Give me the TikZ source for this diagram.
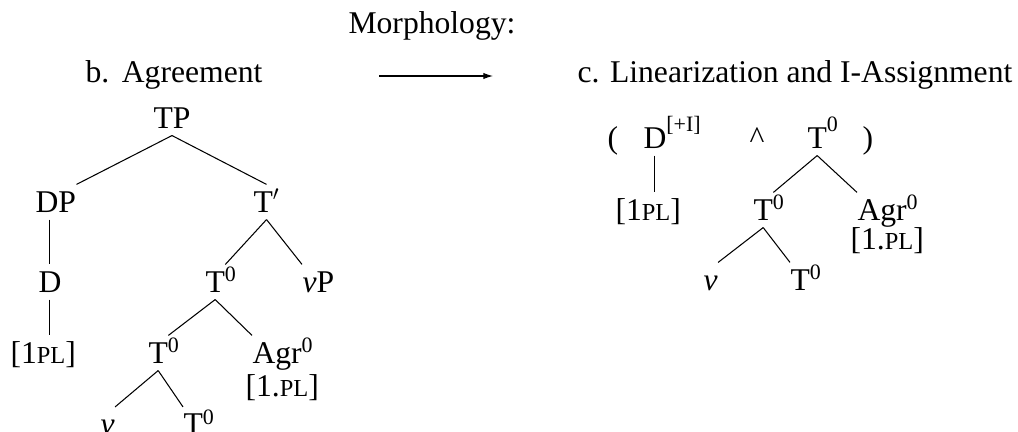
\documentclass[tikz,border=0pt]{standalone}
\usepackage{fontspec}
\setmainfont{Liberation Serif}
\usetikzlibrary{arrows.meta}
\newcommand{\supr}[2][5.7pt]{\rlap{\raisebox{#1}{\fontsize{12.5}{14}\selectfont #2}}}
\newcommand{\smc}[1]{{\fontsize{13.9}{16}\selectfont #1}}
\tikzset{cat/.style={anchor=base west, inner xsep=0pt, inner ysep=3.4pt, text height=12pt, text depth=0.6pt},
  head/.style={anchor=base west, inner sep=0pt}}

\begin{document}
\begin{tikzpicture}[every node/.style={font=\fontsize{18}{21}\selectfont}, line width=0.6pt, >={Latex[length=5.5pt,width=3.6pt]}]
  \useasboundingbox (0,0) rectangle (20.36,8.62);
  % headings and arrow
  \node[head] (morph) at (6.96,7.96) {Morphology:};
  \node[head] (headb) at (1.70,6.98) {b.\hspace{0.4em}Agreement};
  \node[head] (headc) at (11.54,6.98) {c. Linearization and I-Assignment};
  \coordinate (arrL) at (7.58,7.10);
  \coordinate (arrR) at (9.86,7.10);
  \draw[->] (arrL) -- (arrR);
  % b. tree
  \node[cat] (tp) at (3.06,6.06) {TP};
  \node[cat] (dp) at (0.70,4.38) {DP};
  \node[cat] (tbar) at (5.06,4.38) {T$'$};
  \node[cat] (d) at (0.76,2.78) {D};
  \node[cat] (t0a) at (4.10,2.78) {T\supr{0}};
  \node[cat] (vp) at (6.04,2.78) {\textit{v}P};
  \node[cat] (pl1) at (0.20,1.36) {[1\smc{PL}]};
  \node[cat] (t0b) at (2.96,1.36) {T\supr{0}};
  \node[cat] (agr) at (5.04,1.36) {Agr\supr{0}};
  \node[cat] (agrpl) at (4.90,0.70) {[1.\smc{PL}]};
  \node[cat] (vl) at (2.00,-0.07) {\textit{v}};
  \node[cat] (t0c) at (3.66,-0.07) {T\supr{0}};
  \draw (tp.south) -- (dp.north east);
  \draw (tp.south) -- (tbar.north);
  \draw (dp.south -| d.north) -- (d.north);
  \draw (d.south) -- (d.south |- pl1.north);
  \draw (tbar.south) -- (t0a.north east);
  \draw (tbar.south) -- (vp.north west);
  \draw (t0a.south) -- (t0b.north east);
  \draw (t0a.south) -- (agr.north west);
  \draw (t0b.south) -- (vl.north east);
  \draw (t0b.south) -- (t0c.north west);
  % c. linearized string
  \node[cat] (lpar) at (12.14,5.66) {(};
  \node[cat] (di) at (12.86,5.66) {D\supr[9.5pt]{[+I]}};
  \node[cat] (wedge) at (14.98,5.66) {\textasciicircum};
  \node[cat] (t0r) at (16.14,5.66) {T\supr[9.5pt]{0}};
  \node[cat] (rpar) at (17.24,5.66) {)};
  \node[cat] (plr) at (12.30,4.22) {[1\smc{PL}]};
  \node[cat] (t0m) at (15.06,4.22) {T\supr{0}};
  \node[cat] (agrr) at (17.14,4.22) {Agr\supr{0}};
  \node[cat] (agrplr) at (17.00,3.64) {[1.\smc{PL}]};
  \node[cat] (vr) at (14.06,2.82) {\textit{v}};
  \node[cat] (t0s) at (15.80,2.82) {T\supr{0}};
  \draw (di.south) -- (di.south |- plr.north);
  \draw (t0r.south) -- (t0m.north east);
  \draw (t0r.south) -- (agrr.north west);
  \draw (t0m.south) -- (vr.north east);
  \draw (t0m.south) -- (t0s.north west);
\end{tikzpicture}
\end{document}
